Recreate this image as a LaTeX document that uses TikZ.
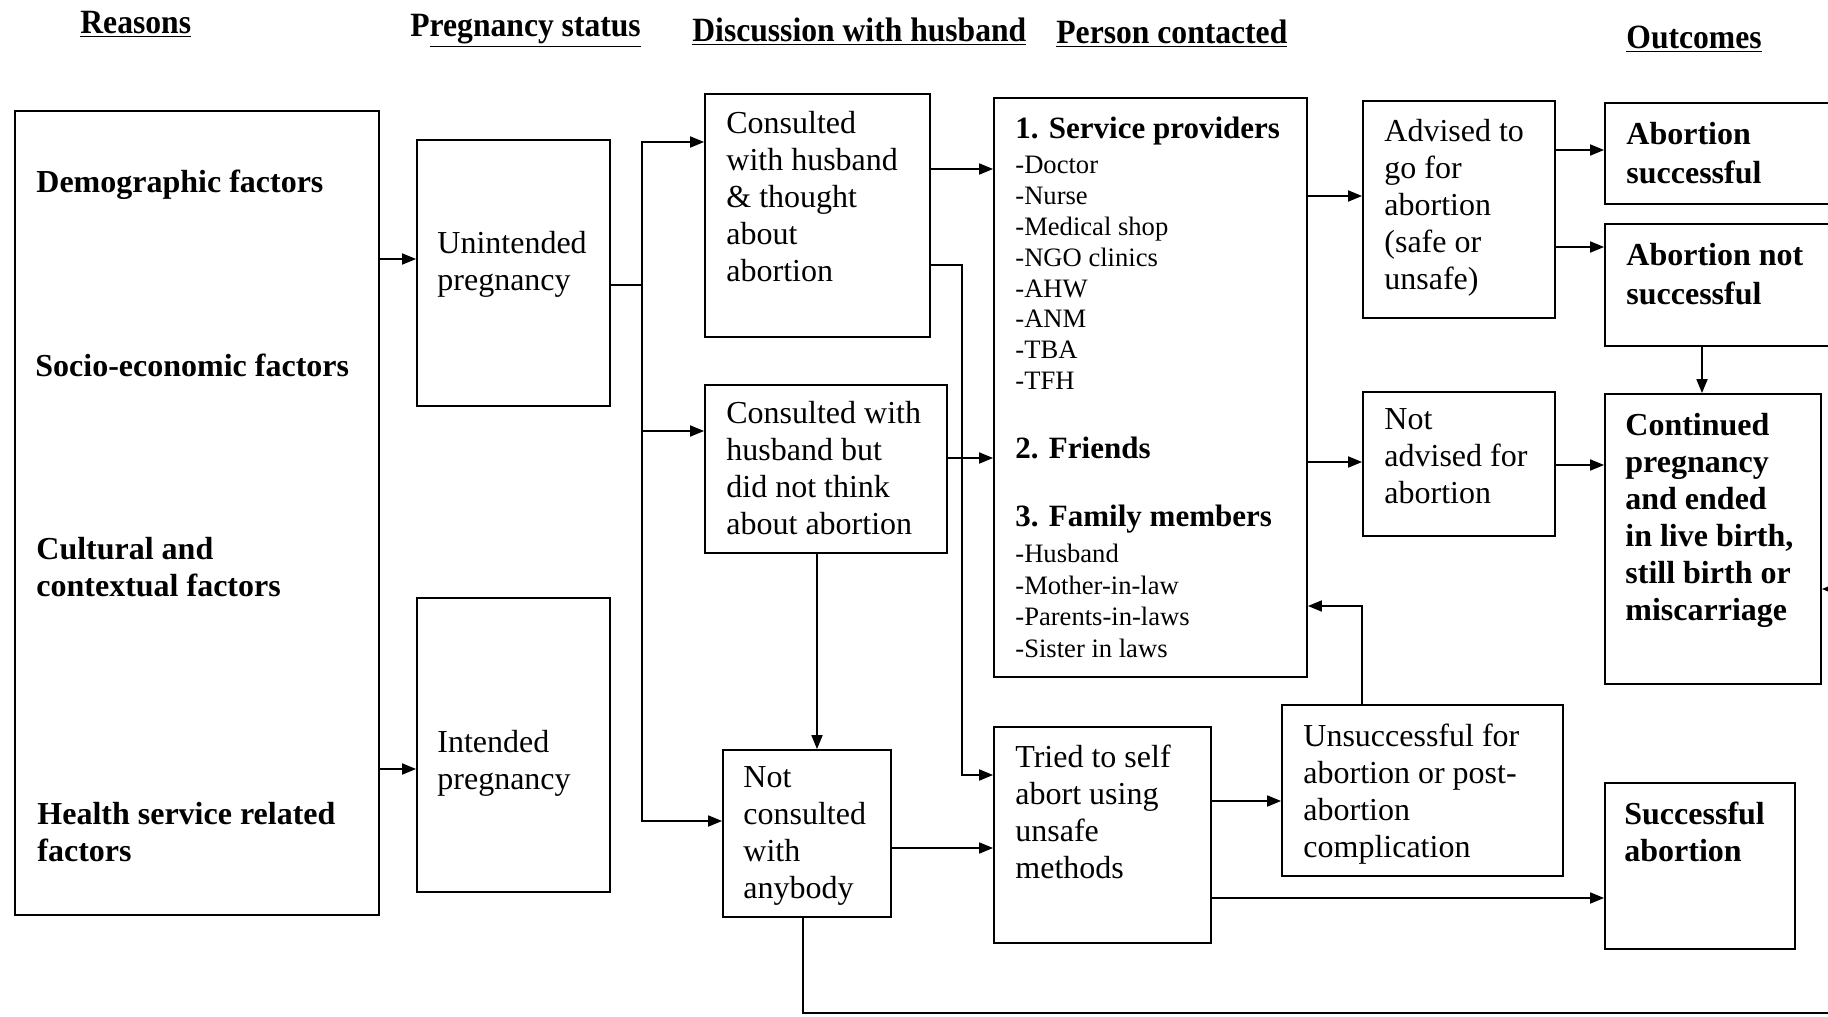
\documentclass[tikz,border=0pt]{standalone}
\usepackage{fontspec}
\usepackage{graphicx}
\setmainfont{Liberation Serif}
\usetikzlibrary{fit,arrows.meta}
\begin{document}
\begin{tikzpicture}[x=0.5pt,y=-0.5pt,
  box/.style={draw,line width=0.9pt,inner sep=0pt},
  ln/.style={draw,line width=0.9pt},
  arr/.style={draw,line width=0.9pt,-{Triangle[length=7pt,width=5.5pt]}},
  txt/.style={anchor=north west,inner sep=0pt,align=left,font=\fontsize{16pt}{18.5pt}\selectfont},
  btxt/.style={anchor=north west,inner sep=0pt,align=left,font=\bfseries\fontsize{16pt}{18.5pt}\selectfont},
  otxt/.style={anchor=north west,inner sep=0pt,align=left,font=\bfseries\fontsize{16pt}{19.25pt}\selectfont},
  ptxt/.style={anchor=north west,inner sep=0pt,align=left,font=\bfseries\fontsize{15.5pt}{18pt}\selectfont},
  stxt/.style={anchor=north west,inner sep=0pt,align=left,font=\fontsize{13.3pt}{15.4pt}\selectfont},
  ftxt/.style={anchor=north west,inner sep=0pt,align=left,font=\fontsize{13.3pt}{15.75pt}\selectfont},
  head/.style={anchor=base west,inner sep=0pt,font=\bfseries\fontsize{17pt}{20pt}\selectfont}]
\clip (0,0) rectangle (1828,1017);
\fill[white] (0,0) rectangle (1828,1017);

% headings
\node[head] (h1) at (80,33) {\scalebox{0.93}[1]{\underline{Reasons}}};
\node[head] (h2) at (410,36) {\scalebox{0.93}[1]{P\underline{regnancy status}}};
\node[head] (h3) at (692,41) {\scalebox{0.93}[1]{\underline{Discussion with husband}}};
\node[head] (h4) at (1056,43) {\scalebox{0.93}[1]{\underline{Person contacted}}};
\node[head] (h5) at (1626,48) {\scalebox{0.93}[1]{\underline{Outcomes}}};

% boxes
\node[box,fit={(15,111) (379,915)}] (reasons) {};
\node[box,fit={(417,140) (610,406)}] (unint) {};
\node[box,fit={(417,598) (610,892)}] (int) {};
\node[box,fit={(705,94) (930,337)}] (ct) {};
\node[box,fit={(705,385) (947,553)}] (cb) {};
\node[box,fit={(723,750) (891,917)}] (nc) {};
\node[box,fit={(994,98) (1307,677)}] (pc) {};
\node[box,fit={(994,727) (1211,943)}] (tr) {};
\node[box,fit={(1363,101) (1555,318)}] (ad) {};
\node[box,fit={(1363,392) (1555,536)}] (na) {};
\node[box,fit={(1282,705) (1563,876)}] (un) {};
\node[box,fit={(1605,103) (1850,204)}] (as) {};
\node[box,fit={(1605,224) (1850,346)}] (ans) {};
\node[box,fit={(1605,394) (1821,684)}] (co) {};
\node[box,fit={(1605,783) (1795,949)}] (sa) {};

% texts
\node[btxt] (t1) at (36,170) {Demographic factors};
\node[btxt] (t2) at (35,354) {Socio-economic factors};
\node[btxt] (t3) at (36,537) {Cultural and\\contextual factors};
\node[btxt] (t4) at (37,802) {Health service related\\factors};
\node[txt] (t5) at (437,231) {Unintended\\pregnancy};
\node[txt] (t6) at (437,730) {Intended\\pregnancy};
\node[txt] (t7) at (726,111) {Consulted\\with husband\\\& thought\\about\\abortion};
\node[txt] (t8) at (726,401) {Consulted with\\husband but\\did not think\\about abortion};
\node[txt] (t9) at (743,766) {Not\\consulted\\with\\anybody};
\node[ptxt] (t10) at (1015,117) {1. Service providers};
\node[stxt] (t11) at (1015,156) {-Doctor\\-Nurse\\-Medical shop\\-NGO clinics\\-AHW\\-ANM\\-TBA\\-TFH};
\node[ptxt] (t12) at (1015,437) {2. Friends};
\node[ptxt] (t13) at (1015,505) {3. Family members};
\node[ftxt] (t14) at (1015,544) {-Husband\\-Mother-in-law\\-Parents-in-laws\\-Sister in laws};
\node[txt] (t15) at (1384,119) {Advised to\\go for\\abortion\\(safe or\\unsafe)};
\node[txt] (t16) at (1384,408) {Not\\advised for\\abortion};
\node[txt] (t17) at (1303,724) {Unsuccessful for\\abortion or post-\\abortion\\complication};
\node[txt] (t18) at (1015,745) {Tried to self\\abort using\\unsafe\\methods};
\node[otxt] (t19) at (1626,122) {Abortion\\successful};
\node[otxt] (t20) at (1626,243) {Abortion not\\successful};
\node[btxt] (t21) at (1625,413) {Continued\\pregnancy\\and ended\\in live birth,\\still birth or\\miscarriage};
\node[btxt] (t22) at (1624,802) {Successful\\abortion};

% helper coordinates
\coordinate (bx) at (642,0);
\coordinate (vx) at (962,0);
\coordinate (far) at (1850,1013);

% connectors
\draw[arr] (reasons.east |- 0,259) -- (unint.west |- 0,259);
\draw[arr] (reasons.east |- 0,769) -- (int.west |- 0,769);
\draw[ln] (unint.east |- 0,285) -- (bx |- 0,285);
\draw[arr] (bx |- 0,285) |- (ct.west |- 0,142);
\draw[arr] (bx |- 0,285) |- (cb.west |- 0,431);
\draw[arr] (bx |- 0,285) |- (nc.west |- 0,821);
\draw[arr] (ct.east |- 0,169) -- (pc.west |- 0,169);
\draw[arr] (ct.east |- 0,265) -| (vx |- 0,775) -- (tr.west |- 0,775);
\draw[arr] (cb.east |- 0,458) -- (pc.west |- 0,458);
\draw[arr] (cb.south -| 817,0) -- (nc.north -| 817,0);
\draw[arr] (nc.east |- 0,848) -- (tr.west |- 0,848);
\draw[arr] (nc.south -| 803,0) |- (far) |- (co.east |- 0,589);
\draw[arr] (pc.east |- 0,196) -- (ad.west |- 0,196);
\draw[arr] (pc.east |- 0,462) -- (na.west |- 0,462);
\draw[arr] (tr.east |- 0,801) -- (un.west |- 0,801);
\draw[arr] (tr.east |- 0,898) -- (sa.west |- 0,898);
\draw[arr] (un.north -| 1362,0) |- (pc.east |- 0,606);
\draw[arr] (ad.east |- 0,150) -- (as.west |- 0,150);
\draw[arr] (ad.east |- 0,247) -- (ans.west |- 0,247);
\draw[arr] (ans.south -| 1702,0) -- (co.north -| 1702,0);
\draw[arr] (na.east |- 0,465) -- (co.west |- 0,465);
\end{tikzpicture}
\end{document}
